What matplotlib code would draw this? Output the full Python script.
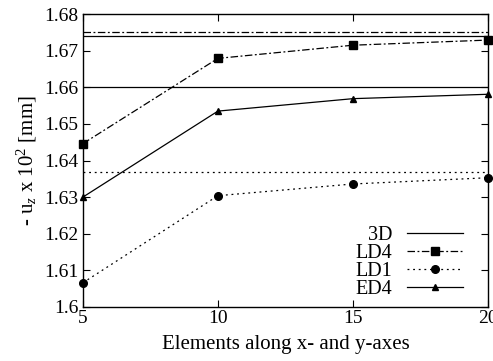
import numpy as np
import matplotlib
matplotlib.use('Agg')
from matplotlib import pyplot as plt

plt.rcParams['font.family'] = 'Liberation Serif'
plt.rcParams['mathtext.fontset'] = 'custom'
plt.rcParams['mathtext.rm'] = 'Liberation Serif'
plt.rcParams['mathtext.it'] = 'Liberation Serif:italic'
plt.rcParams['font.size'] = 14

elements = [5, 10, 15, 20]
ld4 = [1.6446, 1.6679, 1.6715, 1.6729]
ld1 = [1.6066, 1.6304, 1.6336, 1.6353]
ed4 = [1.6300, 1.6535, 1.6569, 1.6581]

# reference values (3D and closed-form for each theory)
ref_3d = 1.674
ref_ld4 = 1.675
ref_ld1 = 1.637
ref_ed4 = 1.660

y_ticks = [1.60, 1.61, 1.62, 1.63, 1.64, 1.65, 1.66, 1.67, 1.68]
y_labels = ['1.6', '1.61', '1.62', '1.63', '1.64', '1.65', '1.66', '1.67', '1.68']
x_ticks = [5, 10, 15, 20]

dashdot = (0, (6, 2, 1.5, 2))
dotted = (0, (1.5, 3))

fig = plt.figure(figsize=(4.93, 3.61), dpi=100)
ax = fig.add_axes([0.168, 0.1496, 0.822, 0.8114])

lw = 0.9
ax.axhline(ref_3d, color='k', lw=lw, ls='-', label='3D')
ax.axhline(ref_ld4, color='k', lw=lw, ls=dashdot)
ax.axhline(ref_ld1, color='k', lw=lw, ls=dotted)
ax.axhline(ref_ed4, color='k', lw=lw, ls='-')

ax.plot(elements, ld4, color='k', lw=lw, ls=dashdot, marker='s', ms=6, label='LD4', clip_on=False)
ax.plot(elements, ld1, color='k', lw=lw, ls=dotted, marker='o', ms=5.5, label='LD1', clip_on=False)
ax.plot(elements, ed4, color='k', lw=lw, ls='-', marker='^', ms=4.5, label='ED4', clip_on=False)

ax.set_xlim(5, 20)
ax.set_ylim(1.60, 1.68)
ax.set_xticks(x_ticks)
ax.set_yticks(y_ticks)
ax.set_yticklabels(y_labels)
ax.tick_params(direction='in', top=True, right=True, length=5, width=0.8, labelsize=14)
ax.tick_params(axis='x', pad=2)
ax.tick_params(axis='y', pad=3)
for s in ax.spines.values():
    s.set_linewidth(1.0)

ax.set_xlabel('Elements along x- and y-axes', fontsize=15, labelpad=6)
ax.set_ylabel(r'- u$_z$ x 10$^2$ [mm]', fontsize=15, labelpad=4)

ax.legend(loc='lower right', bbox_to_anchor=(0.938, 0.027), frameon=False,
          markerfirst=False, handlelength=2.8, labelspacing=-0.05, borderpad=0,
          borderaxespad=0, fontsize=14.5, handletextpad=0.7)

fig.savefig('out.png', dpi=100)
